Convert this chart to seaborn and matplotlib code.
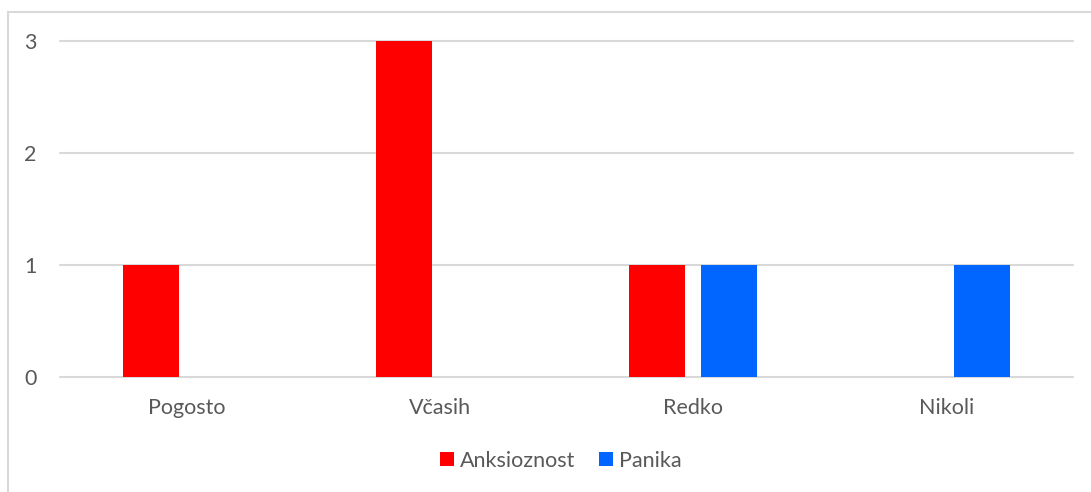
import matplotlib
matplotlib.use("Agg")
import matplotlib.pyplot as plt
from matplotlib.patches import Rectangle, Patch
import seaborn as sns
import pandas as pd

# Chart data
categories = ["Pogosto", "Včasih", "Redko", "Nikoli"]
anksioznost = [1, 3, 1, 0]
panika = [0, 0, 1, 1]
series_names = ["Anksioznost", "Panika"]
series_colors = ["#ff0000", "#0066ff"]
yticks = [0, 1, 2, 3]

df = pd.DataFrame({
    "kategorija": categories * 2,
    "vrednost": anksioznost + panika,
    "serija": [series_names[0]] * len(categories) + [series_names[1]] * len(categories),
})

sns.set_theme(style="white")
plt.rcParams["font.family"] = ["Lato", "DejaVu Sans"]

text_color = "#595959"
grid_color = "#d9d9d9"
fs = 15.5

W, H = 1091, 492
fig = plt.figure(figsize=(W / 100, H / 100), dpi=100)
fig.patch.set_facecolor("white")

# outer chart-area frame (top and left edges visible)
fig.patches.append(Rectangle((8 / W, -0.1), 1.2, 1 - 12 / H + 0.1,
                             transform=fig.transFigure, fill=False,
                             edgecolor=grid_color, linewidth=1.5))

ax = fig.add_axes([60 / W, 1 - 377 / H, (1073 - 60) / W, (377 - 41) / H])
sns.barplot(data=df, x="kategorija", y="vrednost", hue="serija",
            palette=series_colors, width=0.568, gap=0.222,
            saturation=1, linewidth=0, edgecolor="none",
            ax=ax, legend=False)

ax.set_ylim(0, 3)
ax.set_yticks(yticks)
ax.set_xlabel("")
ax.set_ylabel("")
for s in ax.spines.values():
    s.set_visible(False)
ax.set_axisbelow(True)
ax.yaxis.grid(True, color=grid_color, linewidth=1.5)
for gl in ax.get_ygridlines():
    gl.set_clip_on(False)
ax.tick_params(axis="both", length=0, labelcolor=text_color, labelsize=fs)
ax.tick_params(axis="y", pad=17)
ax.tick_params(axis="x", pad=15)

handles = [Patch(facecolor=c, edgecolor="none") for c in series_colors]
fig.legend(handles, series_names, loc="center",
           bbox_to_anchor=(561 / W, 1 - 461 / H), ncol=2, frameon=False,
           handlelength=0.62, handleheight=0.62, handletextpad=0.3,
           columnspacing=1.1, fontsize=fs, labelcolor=text_color)

fig.savefig("out.png", dpi=100, facecolor="white")
